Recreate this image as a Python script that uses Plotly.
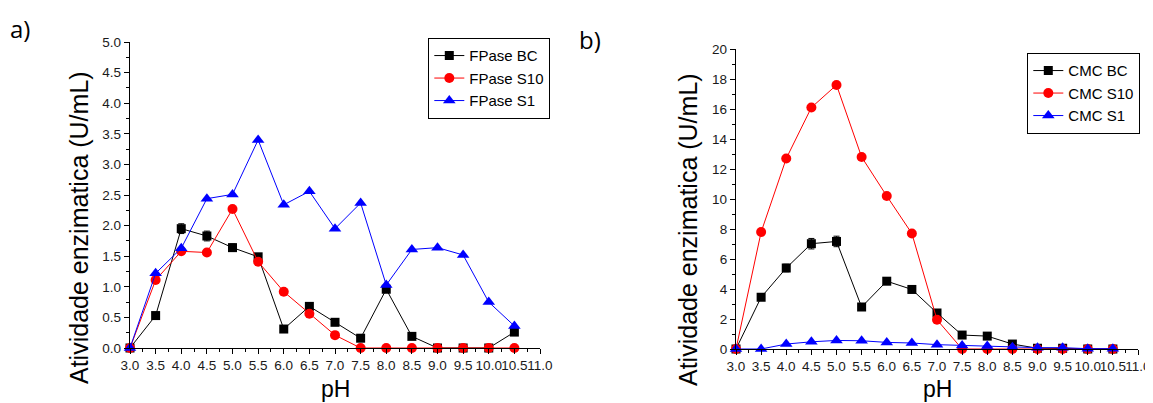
import plotly.graph_objects as go

ph = [3.0, 3.5, 4.0, 4.5, 5.0, 5.5, 6.0, 6.5, 7.0, 7.5, 8.0, 8.5, 9.0, 9.5, 10.0, 10.5]

fpase_bc = [0.0, 0.53, 1.95, 1.83, 1.64, 1.49, 0.31, 0.68, 0.42, 0.16, 0.96, 0.19, 0.0, 0.0, 0.0, 0.26]
fpase_bc_err = [0.0, 0.03, 0.08, 0.08, 0.06, 0.05, 0.02, 0.03, 0.02, 0.02, 0.04, 0.02, 0.0, 0.0, 0.0, 0.02]
fpase_s10 = [0.0, 1.11, 1.58, 1.56, 2.27, 1.41, 0.92, 0.56, 0.21, 0.0, 0.0, 0.0, 0.0, 0.0, 0.0, 0.0]
fpase_s1 = [0.0, 1.22, 1.63, 2.44, 2.51, 3.40, 2.34, 2.56, 1.95, 2.37, 1.03, 1.61, 1.64, 1.52, 0.75, 0.36]

cmc_bc = [0.0, 3.45, 5.4, 7.02, 7.17, 2.8, 4.52, 3.97, 2.4, 0.93, 0.86, 0.33, 0.05, 0.05, 0.0, 0.0]
cmc_bc_err = [0.0, 0.1, 0.25, 0.35, 0.35, 0.1, 0.15, 0.12, 0.1, 0.05, 0.05, 0.03, 0.0, 0.0, 0.0, 0.0]
cmc_s10 = [0.0, 7.8, 12.7, 16.1, 17.6, 12.8, 10.2, 7.7, 1.95, 0.0, 0.0, 0.0, 0.0, 0.0, 0.0, 0.0]
cmc_s1 = [0.0, 0.0, 0.33, 0.48, 0.57, 0.55, 0.44, 0.4, 0.29, 0.24, 0.2, 0.12, 0.09, 0.09, 0.02, 0.02]

x_ticks = [3.0 + 0.5 * i for i in range(17)]
x_ticktext = [f"{v:.1f}" for v in x_ticks]

FONT = "Liberation Sans"

fig = go.Figure()

def add(x, y, name, color, symbol, size, xa, ya, legend, err=None):
    kw = {}
    if err is not None:
        kw["error_y"] = dict(type="data", array=err, visible=True, color=color, thickness=1, width=3)
    fig.add_trace(go.Scatter(
        x=x, y=y, name=name, mode="lines+markers",
        line=dict(color=color, width=1),
        marker=dict(color=color, symbol=symbol, size=size, line=dict(width=0)),
        xaxis=xa, yaxis=ya, legend=legend, cliponaxis=False, **kw))

add(ph, fpase_bc, "FPase BC", "black", "square", 9, "x", "y", "legend", fpase_bc_err)
add(ph, fpase_s10, "FPase S10", "#ff0000", "circle", 10, "x", "y", "legend")
add(ph, fpase_s1, "FPase S1", "#0000ff", "triangle-up", 11, "x", "y", "legend")

add(ph, cmc_bc, "CMC BC", "black", "square", 9, "x2", "y2", "legend2", cmc_bc_err)
add(ph, cmc_s10, "CMC S10", "#ff0000", "circle", 10, "x2", "y2", "legend2")
add(ph, cmc_s1, "CMC S1", "#0000ff", "triangle-up", 11, "x2", "y2", "legend2")

# page body has an 8px margin: figure is drawn from (8, 8) of the window
OFF = 8
W, H = 1153 - OFF, 403 - OFF
def px(xp):
    return (xp - OFF) / W
def py(yp):
    return 1 - (yp - OFF) / H

common_x = dict(range=[3, 11], tickmode="array", tickvals=x_ticks, ticktext=x_ticktext,
                tickangle=0, showline=True, linecolor="black", linewidth=1.3, mirror=False,
                ticks="outside", ticklen=5, tickwidth=1, tickcolor="black",
                minor=dict(ticks="outside", ticklen=3, dtick=0.25, tickcolor="black", tickwidth=1),
                showgrid=False, zeroline=False, automargin=False,
                tickfont=dict(family=FONT, size=13.5, color="#1a1a1a"))
common_y = dict(showline=True, linecolor="black", linewidth=1.3, mirror=False,
                ticks="outside", ticklen=5, tickwidth=1, tickcolor="black",
                showgrid=False, zeroline=False, automargin=False,
                tickfont=dict(family=FONT, size=13.5, color="#1a1a1a"))

legend_common = dict(xanchor="left", yanchor="top",
                     bordercolor="black", borderwidth=1.3, bgcolor="white",
                     font=dict(family=FONT, size=15, color="black"),
                     tracegroupgap=0, itemwidth=30)

fig.update_layout(
    width=W, height=H,
    margin=dict(l=0, r=0, t=0, b=0, pad=0, autoexpand=False),
    paper_bgcolor="white", plot_bgcolor="white",
    font=dict(family=FONT, color="black"),
    xaxis=dict(domain=[px(130), px(540)], anchor="y", **common_x),
    yaxis=dict(domain=[py(348), py(42)], anchor="x", range=[0, 5], dtick=0.5, tickformat=".1f",
               minor=dict(ticks="outside", ticklen=3, dtick=0.25, tickcolor="black", tickwidth=1),
               **common_y),
    xaxis2=dict(domain=[px(736), px(1138)], anchor="y2", **common_x),
    yaxis2=dict(domain=[py(349), py(49)], anchor="x2", range=[0, 20], dtick=2,
                minor=dict(ticks="outside", ticklen=3, dtick=1, tickcolor="black", tickwidth=1),
                **common_y),
    legend=dict(x=px(428), y=py(38), **legend_common),
    legend2=dict(x=px(1027), y=py(53), **legend_common),
    showlegend=True,
)

annots = [
    dict(text="a)", x=px(20), y=py(28), font=dict(family="Open Sans", size=24)),
    dict(text="b)", x=px(590), y=py(40), font=dict(family="Open Sans", size=24)),
    dict(text="Atividade enzimatica (U/mL)", x=px(79), y=py(228), textangle=-90,
         font=dict(family=FONT, size=25)),
    dict(text="Atividade enzimatica (U/mL)", x=px(688), y=py(230), textangle=-90,
         font=dict(family=FONT, size=25)),
    dict(text="pH", x=px(335), y=py(389), font=dict(family=FONT, size=23)),
    dict(text="pH", x=px(937), y=py(389), font=dict(family=FONT, size=23)),
]
for a in annots:
    fig.add_annotation(xref="paper", yref="paper", showarrow=False,
                       xanchor="center", yanchor="middle", **a)

fig.write_html("out.html")
